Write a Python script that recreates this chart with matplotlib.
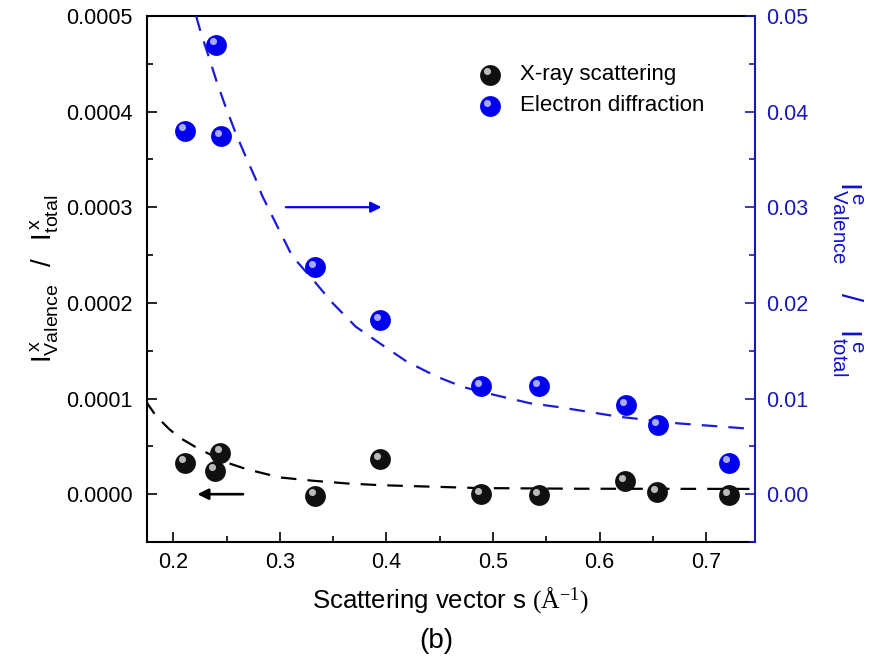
import matplotlib
matplotlib.use("Agg")
import matplotlib.pyplot as plt
from matplotlib.ticker import FormatStrFormatter, MultipleLocator
from matplotlib.transforms import offset_copy

plt.rcParams["font.family"] = ["Liberation Sans", "DejaVu Sans"]
plt.rcParams["mathtext.fontset"] = "custom"
plt.rcParams["mathtext.rm"] = "Liberation Serif"
plt.rcParams["mathtext.sf"] = "Liberation Sans"

# ---------------------------------------------------------------------------
# Data
# ---------------------------------------------------------------------------
s_xray = [0.2112, 0.2390, 0.2442, 0.3326, 0.3936, 0.4884, 0.5434, 0.6239, 0.6540, 0.7212]
r_xray = [3.29e-5, 2.47e-5, 4.35e-5, -0.14e-5, 3.64e-5, 0.0, -0.07e-5, 1.34e-5, 0.18e-5, -0.07e-5]

s_elec = [0.2112, 0.2397, 0.2443, 0.3326, 0.3936, 0.4884, 0.5434, 0.6247, 0.6547, 0.7217]
r_elec = [0.0380, 0.0470, 0.0374, 0.0237, 0.0182, 0.0113, 0.0113, 0.0093, 0.0072, 0.0033]

# fitted curves as drawn in the figure
fit_x_s = [0.1740, 0.1835, 0.1960, 0.2055, 0.2213, 0.2370, 0.2497, 0.2686, 0.2812,
           0.3001, 0.3317, 0.3632, 0.3947, 0.4870, 0.5810, 0.7460]
fit_x_r = [9.75e-5, 8.22e-5, 6.82e-5, 5.94e-5, 4.90e-5, 4.02e-5, 3.32e-5, 2.62e-5, 2.27e-5,
           1.75e-5, 1.40e-5, 1.12e-5, 0.94e-5, 0.64e-5, 0.57e-5, 0.55e-5]

fit_e_s = [0.2214, 0.2262, 0.2325, 0.2405, 0.2484, 0.2580, 0.2675, 0.2771, 0.2834, 0.2958,
           0.3115, 0.3335, 0.3493, 0.3713, 0.3934, 0.4185, 0.4470, 0.4720, 0.5004, 0.5350,
           0.5620, 0.6180, 0.6740, 0.7460]
fit_e_r = [0.0500, 0.0481, 0.0460, 0.0432, 0.0407, 0.0379, 0.0354, 0.0330, 0.0312, 0.0284,
           0.0249, 0.0221, 0.0200, 0.0175, 0.0158, 0.0139, 0.0123, 0.0112, 0.0104, 0.0095,
           0.0091, 0.0081, 0.0074, 0.0068]

BLUE = "#0000ee"
AXBLUE = "#1a1ab0"
LABEL_BLUE = "#1010d0"
LINE_BLUE = "#1c1cd8"


def spheres(ax, x, y, color, hl, transform=None, ms=15):
    tr = transform if transform is not None else ax.transData
    ax.plot(x, y, "o", ms=ms, color=color, mec=color, mew=0,
            transform=tr, zorder=5, clip_on=False)
    hl_tr = offset_copy(tr, fig=ax.figure, x=-2.0, y=2.4, units="points")
    ax.plot(x, y, "o", ms=ms * 0.34, color=hl, mew=0, alpha=0.85,
            transform=hl_tr, zorder=6, clip_on=False)


fig = plt.figure(figsize=(8.73, 6.61), dpi=100)
ax = fig.add_axes([0.168, 0.180, 0.697, 0.796])
ax2 = ax.twinx()

# left axis: X-ray
ax.plot(fit_x_s, fit_x_r, color="black", lw=1.6, dashes=(7, 5), zorder=3)
spheres(ax, s_xray, r_xray, "#101010", "#d8d8d8")
ax.annotate("", xy=(0.220, 0.0), xytext=(0.268, 0.0),
            arrowprops=dict(arrowstyle="-|>", color="black", lw=1.9,
                            mutation_scale=16))

# right axis: electron
ax2.plot(fit_e_s, fit_e_r, color=LINE_BLUE, lw=1.6, dashes=(7, 5), zorder=3)
spheres(ax2, s_elec, r_elec, BLUE, "#c8c8ff")
ax2.annotate("", xy=(0.398, 0.030), xytext=(0.303, 0.030),
             arrowprops=dict(arrowstyle="-|>", color=BLUE, lw=1.6,
                             mutation_scale=16))

ax.set_xlim(0.175, 0.746)
ax.set_ylim(-0.00005, 0.0005)
ax2.set_ylim(-0.005, 0.05)

ax.xaxis.set_major_locator(MultipleLocator(0.1))
ax.xaxis.set_minor_locator(MultipleLocator(0.05))
ax.yaxis.set_major_locator(MultipleLocator(0.0001))
ax.yaxis.set_minor_locator(MultipleLocator(0.00005))
ax2.yaxis.set_major_locator(MultipleLocator(0.01))
ax2.yaxis.set_minor_locator(MultipleLocator(0.005))
ax.xaxis.set_major_formatter(FormatStrFormatter("%.1f"))
ax.yaxis.set_major_formatter(FormatStrFormatter("%.4f"))
ax2.yaxis.set_major_formatter(FormatStrFormatter("%.2f"))

ax.tick_params(which="both", direction="in", right=False, top=False,
               labelsize=15.5, width=1.2)
ax.tick_params(axis="y", pad=10)
ax.tick_params(axis="x", pad=7)
ax.tick_params(which="major", length=7)
ax.tick_params(which="minor", length=4)
ax2.tick_params(which="both", direction="in", colors=AXBLUE,
                labelsize=15.5, width=1.2, pad=8)
ax2.tick_params(which="major", length=7)
ax2.tick_params(which="minor", length=4)

for sp in ax.spines.values():
    sp.set_linewidth(1.5)
ax.spines["right"].set_visible(False)
for name, sp in ax2.spines.items():
    sp.set_linewidth(1.5)
    if name != "right":
        sp.set_visible(False)
ax2.spines["right"].set_color(AXBLUE)

ax.set_xlabel(r"Scattering vector s $\mathrm{(\AA^{-1})}$", fontsize=18.5, labelpad=9)
ax.set_ylabel(r"$\mathregular{I^{\,x}_{Valence}\ \ /\ \ I^{\,x}_{total}}$",
              fontsize=20, labelpad=4)
ax2.set_ylabel(r"$\mathregular{I^{\,e}_{Valence}\ \ \ /\ \ \ I^{\,e}_{total}}$",
               fontsize=21, color=LABEL_BLUE, rotation=270, labelpad=40)

# legend
spheres(ax, [0.564], [0.888], "#101010", "#d8d8d8", transform=ax.transAxes)
spheres(ax, [0.564], [0.829], BLUE, "#c8c8ff", transform=ax.transAxes)
ax.text(0.613, 0.888, "X-ray scattering", transform=ax.transAxes,
        fontsize=16, va="center", ha="left")
ax.text(0.613, 0.829, "Electron diffraction", transform=ax.transAxes,
        fontsize=16, va="center", ha="left")

fig.text(0.5, 0.030, "(b)", fontsize=20, ha="center", va="center")

fig.savefig("out.png", dpi=100)
